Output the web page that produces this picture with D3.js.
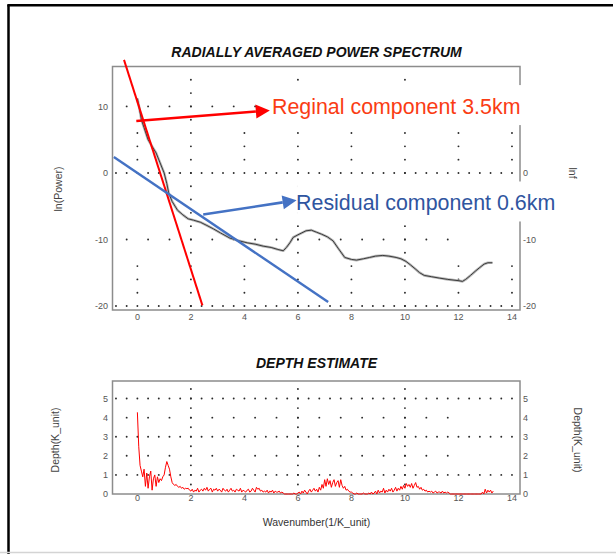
<!DOCTYPE html>
<html>
<head>
<meta charset="utf-8">
<script src="https://cdn.jsdelivr.net/npm/d3@7"></script>
<style>
body { margin: 0; background: #fff; }
svg { display: block; font-family: "Liberation Sans", Arial, sans-serif; }
</style>
</head>
<body>
<div id="chart"></div>
<script>
// radially averaged power spectrum
const powerK = [0, 0.08, 0.15, 0.25, 0.4, 0.55, 0.7, 0.85, 1.0, 1.1,
    1.17, 1.3, 1.5, 1.7, 1.9, 2.1, 2.35, 2.6, 2.84, 3.1,
    3.46, 3.8, 4.1, 4.4, 4.7, 5.0, 5.25, 5.45, 5.57, 5.7,
    5.82, 6.0, 6.15, 6.3, 6.5, 6.69, 6.88, 7.1, 7.31, 7.5,
    7.75, 8.0, 8.19, 8.45, 8.68, 8.9, 9.17, 9.4, 9.67, 9.85,
    10.04, 10.2, 10.41, 10.55, 10.72, 11.0, 11.28, 11.6, 12.02, 12.15,
    12.27, 12.45, 12.65, 12.8, 12.96, 13.1, 13.27];
const powerLn = [11.2, 9.6, 8.0, 6.8, 5.0, 4.0, 3.0, 1.5, 0.0, -1.6,
    -3.0, -4.3, -5.6, -6.3, -6.9, -7.1, -7.4, -7.9, -8.4, -9.0,
    -9.8, -10.2, -10.5, -10.7, -11.0, -11.2, -11.5, -11.7, -11.2, -10.5,
    -9.7, -9.3, -9.0, -8.7, -8.6, -8.9, -9.2, -9.6, -10.2, -11.3,
    -12.7, -13.0, -13.1, -12.9, -12.7, -12.5, -12.4, -12.5, -12.7, -12.9,
    -13.3, -13.8, -14.5, -15.0, -15.4, -15.6, -15.8, -16.0, -16.2, -16.3,
    -16.0, -15.4, -14.7, -14.2, -13.7, -13.5, -13.5];

// fitted straight lines
const regionalK = [-0.5, 2.43];
const regionalLn = [17, -19.9];
const residualK = [-0.88, 7.13];
const residualLn = [2.4, -19.4];

// depth estimate, one value every 0.05 wavenumber from 0
const depthStart = 0;
const depthStep = 0.05;
const depthValues = [
    4.28, 2.5, 1.5, 1.2, 0.9, 1.3, 0.4, 1.1, 0.3, 0.9, 1.2, 0.2, 0.8, 1.0, 0.4, 0.9, 0.6, 0.8, 0.7, 0.9,
    1.0, 1.4, 1.7, 1.5, 1.3, 0.9, 0.6, 0.5, 0.45, 0.5, 0.4, 0.35, 0.4, 0.3, 0.35, 0.25, 0.3, 0.28, 0.3, 0.2,
    0.15, 0.25, 0.1, 0.2, 0.15, 0.3, 0.1, 0.2, 0.25, 0.15, 0.3, 0.2, 0.35, 0.15, 0.25, 0.3, 0.1, 0.25, 0.2, 0.3,
    0.15, 0.25, 0.2, 0.1, 0.3, 0.2, 0.15, 0.25, 0.1, 0.2, 0.3, 0.15, 0.2, 0.1, 0.25, 0.2, 0.15, 0.3, 0.1, 0.2,
    0.15, 0.1, 0.2, 0.25, 0.1, 0.15, 0.3, 0.2, 0.1, 0.35, 0.25, 0.3, 0.15, 0.2, 0.1, 0.15, 0.1, 0.2, 0.05, 0.15,
    0.1, 0.2, 0.05, 0.15, 0.1, 0.1, 0.15, 0.05, 0.1, 0.05, 0, 0, 0, 0, 0, 0, 0, 0.05, 0, 0,
    0.05, 0.1, 0, 0.15, 0.05, 0.2, 0.1, 0, 0.15, 0.25, 0.1, 0.2, 0.3, 0.15, 0.25, 0.1, 0.35, 0.2, 0.5, 0.3,
    0.75, 0.4, 0.8, 0.5, 0.7, 0.35, 0.6, 0.75, 0.4, 0.6, 0.7, 0.35, 0.75, 0.45, 0.3, 0.4, 0.2, 0.25, 0.15, 0.1,
    0.1, 0.05, 0, 0, 0.05, 0, 0, 0, 0, 0.05, 0, 0, 0, 0.05, 0, 0.1, 0, 0.05, 0.15, 0,
    0.2, 0.05, 0.15, 0.1, 0.3, 0.05, 0.2, 0.1, 0.25, 0.15, 0.3, 0.1, 0.2, 0.35, 0.15, 0.3, 0.2, 0.4, 0.25, 0.45,
    0.3, 0.55, 0.4, 0.5, 0.35, 0.55, 0.3, 0.45, 0.6, 0.35, 0.4, 0.25, 0.35, 0.2, 0.25, 0.15, 0.2, 0.1, 0.15, 0.1,
    0.15, 0.05, 0.1, 0.15, 0.05, 0.1, 0.1, 0.05, 0.15, 0.05, 0.1, 0.05, 0.1, 0.05, 0, 0, 0, 0, 0, 0,
    0, 0, 0, 0, 0, 0, 0, 0, 0, 0, 0, 0, 0, 0, 0, 0, 0, 0, 0.1, 0,
    0.25, 0.05, 0.2, 0.1, 0.2, 0.05, 0.15];

const xTicks = [0, 2, 4, 6, 8, 10, 12, 14];
const powerTicks = [10, 0, -10, -20];
const depthTicks = [0, 1, 2, 3, 4, 5];

// annotation arrows, in data units of the spectrum plot
const annotations = [
    {label: "Reginal component 3.5km", from: [-0.04, 7.8], to: [4.95, 9.4], text: [5.03, 8.85],
     line: "#ff0000", color: "#fa3c14"},
    {label: "Residual component 0.6km", from: [2.46, -6.25], to: [5.95, -4.1], text: [5.93, -5.64],
     line: "#4472c4", color: "#2f55a0"}
];

const W = 616, H = 554;
const svg = d3.select("#chart").append("svg")
    .attr("width", W)
    .attr("height", H);

// outer frame of the slide
svg.append("line").attr("x1", 8.5).attr("y1", 5).attr("x2", 8.5).attr("y2", H)
    .attr("stroke", "#000").attr("stroke-width", 2.5);
svg.append("line").attr("x1", 7.3).attr("y1", 5.3).attr("x2", 613).attr("y2", 5.3)
    .attr("stroke", "#000").attr("stroke-width", 2.5);
svg.append("line").attr("x1", 0).attr("y1", 552.5).attr("x2", W).attr("y2", 552.5)
    .attr("stroke", "#d4d4d4").attr("stroke-width", 1.5);

const x = d3.scaleLinear().domain([-0.93, 14.3]).range([112.5, 520]);
const yP = d3.scaleLinear().domain([-20.6, 16]).range([310, 66.5]);
const yD = d3.scaleLinear().domain([0, 5.92]).range([494, 381]);

function dots(g, pts, ys) {
    g.selectAll(null)
        .data(pts)
        .enter()
        .append("circle")
        .attr("cx", d => x(d[0]))
        .attr("cy", d => ys(d[1]))
        .attr("r", 0.95)
        .attr("fill", "#2a2a2a");
}

function frame(g, ys, hi, lo) {
    g.append("rect")
        .attr("x", x.range()[0])
        .attr("y", ys(hi))
        .attr("width", x.range()[1] - x.range()[0])
        .attr("height", ys(lo) - ys(hi))
        .attr("fill", "none")
        .attr("stroke", "#8c8c8c")
        .attr("stroke-width", 1.5);
}

function tickLabels(g, ys, ticks, baseY) {
    g.selectAll(null).data(ticks).enter().append("text")
        .attr("x", 108).attr("y", d => ys(d) + 3.2)
        .attr("text-anchor", "end")
        .attr("font-size", 9).attr("fill", "#555")
        .text(d => d);
    g.selectAll(null).data(ticks).enter().append("text")
        .attr("x", 523).attr("y", d => ys(d) + 3.2)
        .attr("font-size", 9).attr("fill", "#555")
        .text(d => d);
    g.selectAll(null).data(xTicks).enter().append("text")
        .attr("x", d => x(d)).attr("y", baseY)
        .attr("text-anchor", "middle")
        .attr("font-size", 9).attr("fill", "#555")
        .text(d => d);
}

function title(g, txt, yPos) {
    g.append("text")
        .attr("x", 316.5).attr("y", yPos)
        .attr("text-anchor", "middle")
        .attr("font-size", 14).attr("font-weight", "bold").attr("font-style", "italic")
        .attr("fill", "#111")
        .text(txt);
}

function sideTitle(g, txt, px, py, angle) {
    g.append("text")
        .attr("transform", `translate(${px},${py}) rotate(${angle})`)
        .attr("text-anchor", "middle")
        .attr("dy", "0.35em")
        .attr("font-size", 10.5).attr("fill", "#444")
        .text(txt);
}

// ---------- power spectrum ----------
const spec = svg.append("g");
title(spec, "RADIALLY AVERAGED POWER SPECTRUM", 57);

const denseX = d3.range(-0.8, 14.01, 0.4);
const sparseX = d3.range(-0.4, 11.61, 0.8);
let pts = [];
[0, -20].forEach(r => denseX.forEach(v => pts.push([v, r])));
[10, -10].forEach(r => sparseX.forEach(v => pts.push([v, r])));
[2, 6, 10].forEach(c => d3.range(-20, 14.1, 2).forEach(v => pts.push([c, v])));
[0, 4, 8, 12, 14].forEach(c => [2, 4, 6, -14, -16, -18].forEach(v => pts.push([c, v])));
dots(spec, pts, yP);

frame(spec, yP, 16, -20.6);
tickLabels(spec, yP, powerTicks, 320);
sideTitle(spec, "ln(Power)", 58, 189, -90);
sideTitle(spec, "lnf", 573, 173, 90);

const powerLine = d3.line().x(d => x(d[0])).y(d => yP(d[1]));
const powerPts = powerK.map((k, i) => [k, powerLn[i]]);
spec.append("path").datum(powerPts)
    .attr("d", powerLine).attr("fill", "none")
    .attr("stroke", "#b8b8b8").attr("stroke-width", 2.6).attr("stroke-linejoin", "round");
spec.append("path").datum(powerPts)
    .attr("d", powerLine).attr("fill", "none")
    .attr("stroke", "#3a3a3a").attr("stroke-width", 1).attr("stroke-linejoin", "round");

spec.append("path").datum(regionalK.map((k, i) => [k, regionalLn[i]]))
    .attr("d", powerLine).attr("fill", "none")
    .attr("stroke", "#ff0000").attr("stroke-width", 2);
spec.append("path").datum(residualK.map((k, i) => [k, residualLn[i]]))
    .attr("d", powerLine).attr("fill", "none")
    .attr("stroke", "#4472c4").attr("stroke-width", 2.4);

// annotations: white label boxes and arrows
annotations.forEach(a => {
    const t = spec.append("text")
        .attr("x", x(a.text[0])).attr("y", yP(a.text[1]))
        .attr("font-size", 21.4).attr("fill", a.color)
        .text(a.label);
    const bb = t.node().getBBox();
    spec.insert("rect", () => t.node())
        .attr("x", bb.x + 1).attr("y", bb.y - 10)
        .attr("width", bb.width + 22).attr("height", bb.height + 16)
        .attr("fill", "#fff");

    const x0 = x(a.from[0]), y0 = yP(a.from[1]);
    const x1 = x(a.to[0]), y1 = yP(a.to[1]);
    const ang = Math.atan2(y1 - y0, x1 - x0);
    const len = 14, half = 7;
    const bx = x1 - len * Math.cos(ang), by = y1 - len * Math.sin(ang);
    spec.append("line")
        .attr("x1", x0).attr("y1", y0).attr("x2", bx).attr("y2", by)
        .attr("stroke", a.line).attr("stroke-width", 2.6);
    spec.append("polygon")
        .attr("points", [
            [x1, y1],
            [bx + half * Math.sin(ang), by - half * Math.cos(ang)],
            [bx - half * Math.sin(ang), by + half * Math.cos(ang)]
        ].map(p => p.join(",")).join(" "))
        .attr("fill", a.line);
});

// ---------- depth estimate ----------
const bot = svg.append("g");
title(bot, "DEPTH ESTIMATE", 368);

pts = [];
[1, 3, 5].forEach(r => denseX.forEach(v => pts.push([v, r])));
[2, 4].forEach(r => sparseX.forEach(v => pts.push([v, r])));
[2, 6, 10].forEach(c => d3.range(0.5, 5.6, 0.5).forEach(v => pts.push([c, v])));
dots(bot, pts, yD);

frame(bot, yD, 5.92, 0);
tickLabels(bot, yD, depthTicks, 501);
sideTitle(bot, "Depth(K_unit)", 55, 440, -90);
sideTitle(bot, "Depth(K_unit)", 578, 440, 90);

bot.append("path").datum(depthValues)
    .attr("d", d3.line().x((d, i) => x(depthStart + i * depthStep)).y(d => yD(d)))
    .attr("fill", "none")
    .attr("stroke", "#ff0000").attr("stroke-width", 1).attr("stroke-linejoin", "round");

bot.append("text")
    .attr("x", 316.5).attr("y", 526)
    .attr("text-anchor", "middle")
    .attr("font-size", 10.5).attr("fill", "#333")
    .text("Wavenumber(1/K_unit)");
</script>
</body>
</html>
